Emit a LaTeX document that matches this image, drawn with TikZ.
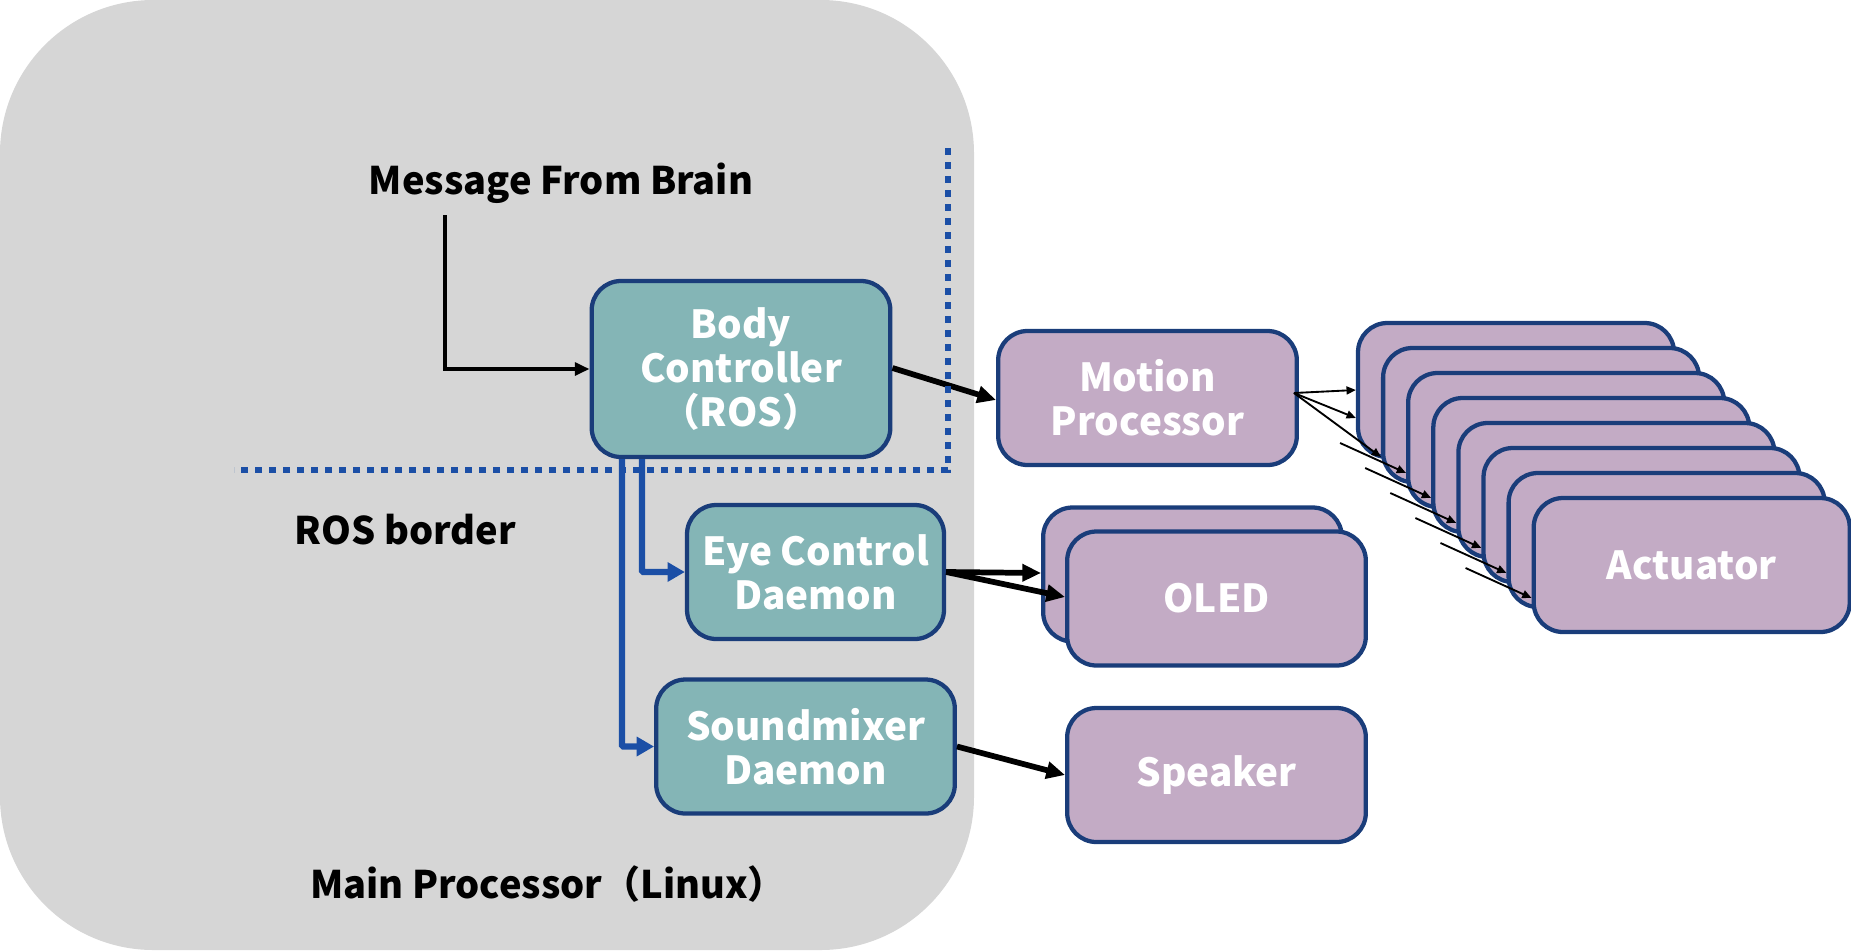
\documentclass[tikz,border=0pt]{standalone}
\usepackage{fontspec}
\setmainfont{Noto Sans CJK JP}
\usetikzlibrary{arrows.meta,calc}
\definecolor{bggray}{HTML}{D6D6D6}
\definecolor{tealc}{HTML}{84B5B6}
\definecolor{purplec}{HTML}{C3ABC5}
\definecolor{navyc}{HTML}{1A3D7A}
\definecolor{bluec}{HTML}{1B4FA6}
\begin{document}
\begin{tikzpicture}[x=0.75pt,y=-0.75pt,
  boxbase/.style={draw=navyc, line width=3.2pt, rounded corners=22pt, text=white,
    font=\bfseries\fontsize{29}{33}\selectfont, align=center, inner sep=0pt,
    minimum width=224pt, minimum height=100.5pt},
  tealbox/.style={boxbase, fill=tealc},
  purplebox/.style={boxbase, fill=purplec},
  lbl/.style={text=black, font=\bfseries\fontsize{28.5}{33}\selectfont, inner sep=0pt},
  thickarrow/.style={line width=4.3pt, -{Triangle[length=14pt,width=12.5pt]}},
  midarrow/.style={line width=3.2pt, -{Triangle[length=11pt,width=9.5pt]}},
  thinarrow/.style={line width=1.4pt, -{Triangle[length=7pt,width=6pt]}},
  bluearrow/.style={draw=bluec, line width=4.8pt, -{Triangle[length=13pt,width=14pt]}},
  rosline/.style={draw=bluec, line width=4.5pt, dash pattern=on 5pt off 5.5pt}
]
\useasboundingbox (0,0) rectangle (1851,950);
\fill[bggray, rounded corners=115pt] (0,0) rectangle (974,950);

% labels
\node[lbl] (msg) at (561,183) {Message From Brain};
\node[lbl] (rosb) at (405,530) {ROS border};
\node[lbl] (mainp) at (548,884) {Main Processor（Linux）};

% main boxes
\node[tealbox, minimum height=132pt] (body) at (741,369) {Body\\Controller\\（ROS）};
\node[purplebox] (motion) at (1147.5,398) {Motion\\Processor};
\node[tealbox, minimum width=192.75pt] (eye) at (815.5,572) {Eye Control\\Daemon};
\node[tealbox] (sound) at (805.5,746.5) {Soundmixer\\Daemon};
\node[purplebox] (oledb) at (1192.5,574.5) {};
\node[purplebox] (oled) at (1216.5,598.5) {OLED};
\node[purplebox] (speaker) at (1216.5,775) {Speaker};

% actuators
\foreach \k in {0,...,6}{
  \node[purplebox, minimum width=237pt] (a\k) at ({1516+25.1*\k},{390+25*\k}) {};
}
\node[purplebox, minimum width=237pt] (a7) at ({1516+25.1*7},{390+25*7}) {Actuator};

% connectors
\coordinate (msgstart) at (445,215);
\draw[midarrow] (msgstart) |- (body.west);
\draw[thickarrow] ($(body.east)+(0,-1)$) -- ($(motion.west)+(0,2)$);
\draw[thickarrow] (eye.east) -- ($(oledb.west)+(0,-1.5)$);
\draw[thickarrow] (eye.east) -- ($(oled.west)+(0,-1.5)$);
\draw[thickarrow] (sound.east) -- (speaker.west);

\coordinate (mp) at ($(motion.east)+(-5,-5)$);
\draw[thinarrow] (mp) -- (a0.west);
\draw[thinarrow] (mp) -- ($(a0.west)+(0,28)$);
\draw[thinarrow] (mp) -- ($(a1.west)+(0,42)$);
\foreach \i [evaluate=\i as \j using int(\i+2)] in {0,...,5}{
  \coordinate (s\i) at ($(a\j.west)+(-66,3)$);
  \draw[thinarrow] (s\i) -- ($(a\j.west)+(0,33)$);
}

% blue lines
\draw[bluearrow, rounded corners=1pt] ($(body.south)+(-119,0)$) |- (sound.west);
\draw[bluearrow, rounded corners=1pt] ($(body.south)+(-99,0)$) |- (eye.west);

% ROS border
\coordinate (rb1) at (948,148);
\coordinate (rb2) at (948,470);
\coordinate (rb3) at (234,470);
\draw[rosline] (rb1) -- (rb2) -- (rb3);
\end{tikzpicture}
\end{document}
